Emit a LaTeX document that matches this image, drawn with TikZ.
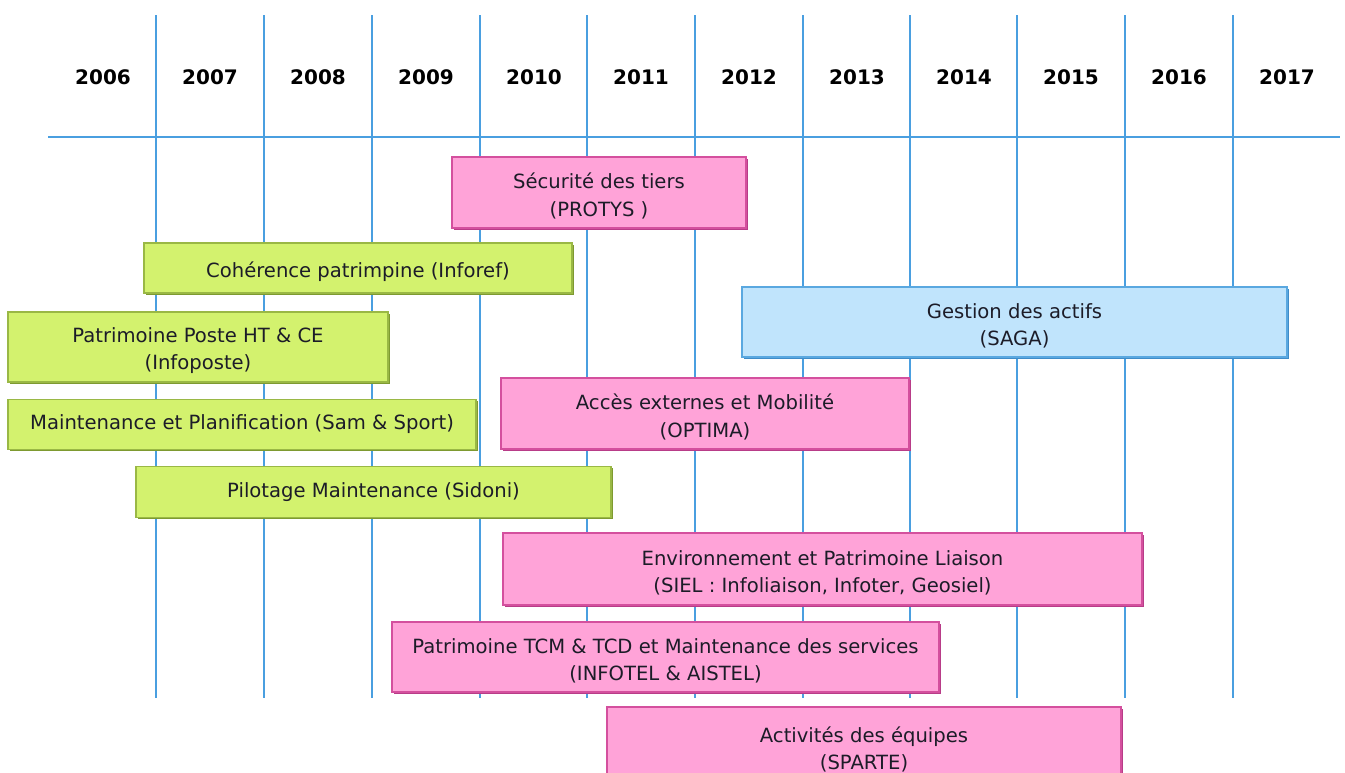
\documentclass[tikz,border=0pt]{standalone}
\usepackage{fontspec}
\setmainfont{DejaVu Sans}
\usetikzlibrary{shadows}
\definecolor{gridc}{HTML}{4A9FE0}
\definecolor{pinkf}{HTML}{FFA3D8}
\definecolor{pinkd}{HTML}{D4509E}
\definecolor{pinks}{HTML}{B83C88}
\definecolor{greenf}{HTML}{D3F26E}
\definecolor{greend}{HTML}{9AB845}
\definecolor{greens}{HTML}{7E9A30}
\definecolor{bluef}{HTML}{C0E4FC}
\definecolor{blued}{HTML}{5AA8E0}
\definecolor{blues}{HTML}{3F8CC8}
\definecolor{txt}{HTML}{1C1C28}
\newcommand\tdn{\rule{0pt}{1.15em}}
\tikzset{
  gridline/.style={draw=gridc, line width=2pt},
  yearlab/.style={font=\fontsize{15}{17}\selectfont\bfseries, text=black, inner sep=0pt},
  bar/.style={rectangle, inner sep=0pt, align=center, text=txt,
    font=\fontsize{14.7}{20.5}\selectfont, line width=1.1pt},
  pinkbar/.style={bar, fill=pinkf, draw=pinkd,
    general shadow={fill=pinks, shadow xshift=1.2pt, shadow yshift=-1.2pt}},
  greenbar/.style={bar, fill=greenf, draw=greend,
    general shadow={fill=greens, shadow xshift=1.2pt, shadow yshift=-1.2pt}},
  bluebar/.style={bar, fill=bluef, draw=blued,
    general shadow={fill=blues, shadow xshift=1.2pt, shadow yshift=-1.2pt}},
}
\begin{document}
\begin{tikzpicture}[x=0.75pt, y=-0.75pt]
\useasboundingbox (0,0) rectangle (1345,772);
\clip (0,0) rectangle (1345,772);
% grid
\foreach \gx [count=\i] in {156,264,372,480,587,695,803,910,1017,1125,1233} {
  \coordinate (vt\i) at (\gx,15);
  \coordinate (vb\i) at (\gx,698);
  \draw[gridline] (vt\i) -- (vb\i);
}
\coordinate (hl) at (48,137);
\coordinate (hr) at (1340,137);
\draw[gridline] (hl) -- (hr);
% years
\foreach \yx/\yr in {103/2006,210/2007,318/2008,426/2009,534/2010,641/2011,749/2012,857/2013,964/2014,1071/2015,1179/2016,1287/2017} {
  \node[yearlab] (y\yr) at (\yx,77) {\yr};
}
% bars
\node[pinkbar, minimum width={294*0.75pt}, minimum height={71*0.75pt}] (protys) at (599,192.5) {\tdn Sécurité des tiers\\(PROTYS )};
\node[greenbar, minimum width={428*0.75pt}, minimum height={50*0.75pt}] (inforef) at (358,268) {\tdn Cohérence patrimpine (Inforef)};
\node[bluebar, minimum width={545*0.75pt}, minimum height={70*0.75pt}] (saga) at (1014.5,322) {\tdn Gestion des actifs\\(SAGA)};
\node[greenbar, minimum width={380*0.75pt}, minimum height={70*0.75pt}] (infoposte) at (198,347) {\tdn Patrimoine Poste HT \& CE\\(Infoposte)};
\node[greenbar, minimum width={468*0.75pt}, minimum height={50*0.75pt}] (sam) at (242,424.5) {Maintenance et Planification (Sam \& Sport)};
\node[pinkbar, minimum width={408*0.75pt}, minimum height={71*0.75pt}] (optima) at (705,413.5) {\tdn Accès externes et Mobilité\\(OPTIMA)};
\node[greenbar, minimum width={475*0.75pt}, minimum height={51*0.75pt}] (sidoni) at (373.5,492) {Pilotage Maintenance (Sidoni)};
\node[pinkbar, minimum width={639*0.75pt}, minimum height={72*0.75pt}] (siel) at (822.5,569) {\tdn Environnement et Patrimoine Liaison\\(SIEL : Infoliaison, Infoter, Geosiel)};
\node[pinkbar, minimum width={547*0.75pt}, minimum height={70*0.75pt}] (infotel) at (665.5,657) {\tdn Patrimoine TCM \& TCD et Maintenance des services\\(INFOTEL \& AISTEL)};
\node[pinkbar, minimum width={514*0.75pt}, minimum height={78*0.75pt}] (sparte) at (864,746) {\tdn Activités des équipes\\(SPARTE)};
\end{tikzpicture}
\end{document}
